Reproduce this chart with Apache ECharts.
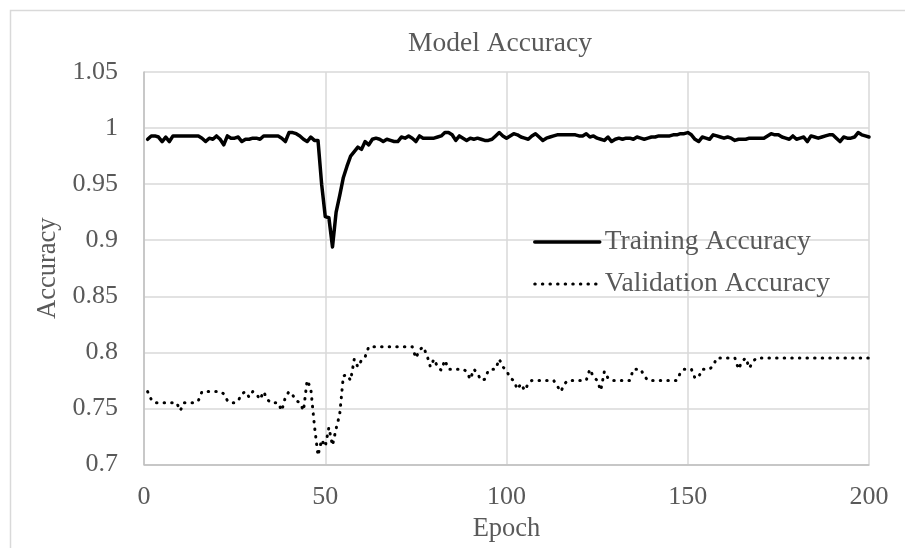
<!DOCTYPE html>
<html>
<head>
<meta charset="utf-8">
<script src="https://cdn.jsdelivr.net/npm/echarts@6/dist/echarts.min.js"></script>
<style>html,body{margin:0;padding:0;background:#fff}#c{width:905px;height:548px}</style>
</head>
<body>
<div id="c"></div>
<script>
// ---- data ----
const epochs = Array.from({length: 200}, (_, i) => i + 1);
const trainingAccuracy = [
  0.990, 0.993, 0.993, 0.992, 0.988, 0.992, 0.988, 0.993, 0.993, 0.993,
  0.993, 0.993, 0.993, 0.993, 0.993, 0.991, 0.988, 0.991, 0.990, 0.993,
  0.990, 0.985, 0.993, 0.991, 0.991, 0.992, 0.988, 0.990, 0.990, 0.991,
  0.991, 0.990, 0.993, 0.993, 0.993, 0.993, 0.993, 0.991, 0.988, 0.996,
  0.996, 0.995, 0.993, 0.990, 0.988, 0.992, 0.989, 0.989, 0.950, 0.921,
  0.920, 0.894, 0.925, 0.940, 0.956, 0.966, 0.975, 0.979, 0.983, 0.981,
  0.988, 0.985, 0.990, 0.991, 0.990, 0.988, 0.990, 0.989, 0.988, 0.988,
  0.992, 0.991, 0.993, 0.991, 0.988, 0.993, 0.991, 0.991, 0.991, 0.991,
  0.992, 0.993, 0.996, 0.996, 0.994, 0.989, 0.993, 0.991, 0.989, 0.991,
  0.990, 0.991, 0.990, 0.989, 0.989, 0.990, 0.993, 0.996, 0.993, 0.991,
  0.993, 0.995, 0.994, 0.992, 0.991, 0.990, 0.993, 0.995, 0.992, 0.989,
  0.991, 0.992, 0.993, 0.994, 0.994, 0.994, 0.994, 0.994, 0.994, 0.993,
  0.993, 0.995, 0.992, 0.993, 0.991, 0.990, 0.989, 0.992, 0.988, 0.990,
  0.991, 0.990, 0.991, 0.991, 0.990, 0.992, 0.991, 0.990, 0.991, 0.992,
  0.992, 0.993, 0.993, 0.993, 0.993, 0.994, 0.994, 0.995, 0.995, 0.996,
  0.994, 0.990, 0.988, 0.992, 0.991, 0.990, 0.994, 0.993, 0.992, 0.991,
  0.992, 0.991, 0.989, 0.990, 0.990, 0.990, 0.991, 0.991, 0.991, 0.991,
  0.991, 0.993, 0.995, 0.994, 0.994, 0.992, 0.991, 0.990, 0.993, 0.990,
  0.991, 0.992, 0.988, 0.993, 0.992, 0.991, 0.992, 0.993, 0.994, 0.994,
  0.991, 0.988, 0.992, 0.991, 0.991, 0.992, 0.996, 0.994, 0.993, 0.992
];
const validationAccuracy = [
  0.765, 0.758, 0.755, 0.755, 0.755, 0.755, 0.755, 0.755, 0.755, 0.748,
  0.755, 0.755, 0.755, 0.755, 0.757, 0.765, 0.765, 0.765, 0.765, 0.765,
  0.765, 0.763, 0.757, 0.755, 0.755, 0.757, 0.763, 0.765, 0.760, 0.765,
  0.763, 0.758, 0.765, 0.758, 0.755, 0.755, 0.755, 0.748, 0.760, 0.765,
  0.762, 0.757, 0.755, 0.748, 0.775, 0.768, 0.735, 0.708, 0.722, 0.716,
  0.733, 0.717, 0.732, 0.745, 0.779, 0.780, 0.775, 0.794, 0.787, 0.793,
  0.796, 0.805, 0.805, 0.805, 0.805, 0.805, 0.805, 0.805, 0.805, 0.805,
  0.805, 0.805, 0.805, 0.805, 0.795, 0.802, 0.805, 0.798, 0.787, 0.794,
  0.787, 0.784, 0.793, 0.785, 0.785, 0.785, 0.785, 0.785, 0.783, 0.776,
  0.785, 0.781, 0.775, 0.776, 0.784, 0.785, 0.785, 0.794, 0.787, 0.784,
  0.777, 0.775, 0.767, 0.772, 0.766, 0.772, 0.775, 0.775, 0.775, 0.775,
  0.775, 0.775, 0.775, 0.770, 0.765, 0.772, 0.775, 0.775, 0.775, 0.775,
  0.775, 0.775, 0.785, 0.778, 0.775, 0.766, 0.783, 0.777, 0.775, 0.775,
  0.775, 0.775, 0.775, 0.775, 0.785, 0.785, 0.785, 0.779, 0.775, 0.775,
  0.775, 0.775, 0.775, 0.775, 0.775, 0.775, 0.775, 0.782, 0.785, 0.785,
  0.785, 0.777, 0.778, 0.785, 0.785, 0.785, 0.788, 0.795, 0.795, 0.795,
  0.795, 0.795, 0.795, 0.785, 0.792, 0.795, 0.786, 0.792, 0.795, 0.795,
  0.795, 0.795, 0.795, 0.795, 0.795, 0.795, 0.795, 0.795, 0.795, 0.795,
  0.795, 0.795, 0.795, 0.795, 0.795, 0.795, 0.795, 0.795, 0.795, 0.795,
  0.795, 0.795, 0.795, 0.795, 0.795, 0.795, 0.795, 0.795, 0.795, 0.795
];
const seriesNames = ['Training Accuracy', 'Validation Accuracy'];
const titleText = 'Model Accuracy';
const xName = 'Epoch';
const yName = 'Accuracy';

// ---- chart ----
const FONT = "'Liberation Serif', 'Times New Roman', serif";
const TXT = '#595959';
const chart = echarts.init(document.getElementById('c'), null, {renderer: 'canvas'});
const pairs = arr => epochs.map((e, i) => [e, arr[i]]);
const trainLine = {color: '#000', width: 3.5, type: 'solid', cap: 'round', join: 'round'};
const valLine = {color: '#000', width: 3, type: [0.5, 7.1], cap: 'round', join: 'round'};

chart.setOption({
  animation: false,
  backgroundColor: '#fff',
  title: {
    text: titleText, left: 500, top: 30, textAlign: 'center', padding: 0,
    textStyle: {fontFamily: FONT, fontSize: 27.5, fontWeight: 'normal', color: TXT, lineHeight: 28}
  },
  graphic: [{
    type: 'rect', silent: true, z: -1,
    shape: {x: 10.5, y: 10.5, width: 920, height: 620},
    style: {fill: 'none', stroke: '#d9d9d9', lineWidth: 1.5}
  }],
  legend: {
    orient: 'vertical', left: 533, top: 227, padding: 0,
    itemWidth: 65, itemHeight: 14, itemGap: 12,
    itemStyle: {opacity: 0},
    textStyle: {fontFamily: FONT, fontSize: 27.5, color: TXT, lineHeight: 30},
    data: [
      {name: seriesNames[0], lineStyle: trainLine},
      {name: seriesNames[1], lineStyle: valLine}
    ]
  },
  grid: {left: 144, right: 36, top: 72, bottom: 80},
  xAxis: {
    type: 'value', min: 0, max: 200, interval: 50,
    name: xName, nameLocation: 'middle', nameGap: 52,
    nameTextStyle: {fontFamily: FONT, fontSize: 26.5, color: TXT, lineHeight: 26},
    axisLine: {show: true, lineStyle: {color: '#bfbfbf', width: 1.5}},
    axisTick: {show: false},
    axisLabel: {fontFamily: FONT, fontSize: 26, color: TXT, margin: 20, lineHeight: 26},
    splitLine: {show: true, lineStyle: {color: '#d9d9d9', width: 1.5}}
  },
  yAxis: {
    type: 'value', min: 0.7, max: 1.05, interval: 0.05,
    name: yName, nameLocation: 'middle', nameGap: 80, nameRotate: 90,
    nameTextStyle: {fontFamily: FONT, fontSize: 26.5, color: TXT, lineHeight: 26},
    axisLine: {show: true, lineStyle: {color: '#bfbfbf', width: 1.5}},
    axisTick: {show: false},
    axisLabel: {fontFamily: FONT, fontSize: 26, color: TXT, margin: 26,
      formatter: v => String(parseFloat(v.toFixed(2)))},
    splitLine: {show: true, lineStyle: {color: '#d9d9d9', width: 1.5}}
  },
  series: [
    {name: seriesNames[0], type: 'line', data: pairs(trainingAccuracy), symbol: 'none',
     lineStyle: trainLine, itemStyle: {color: '#000'}, z: 3},
    {name: seriesNames[1], type: 'line', data: pairs(validationAccuracy), symbol: 'none',
     lineStyle: valLine, itemStyle: {color: '#000'}, z: 2}
  ]
});
</script>
</body>
</html>
